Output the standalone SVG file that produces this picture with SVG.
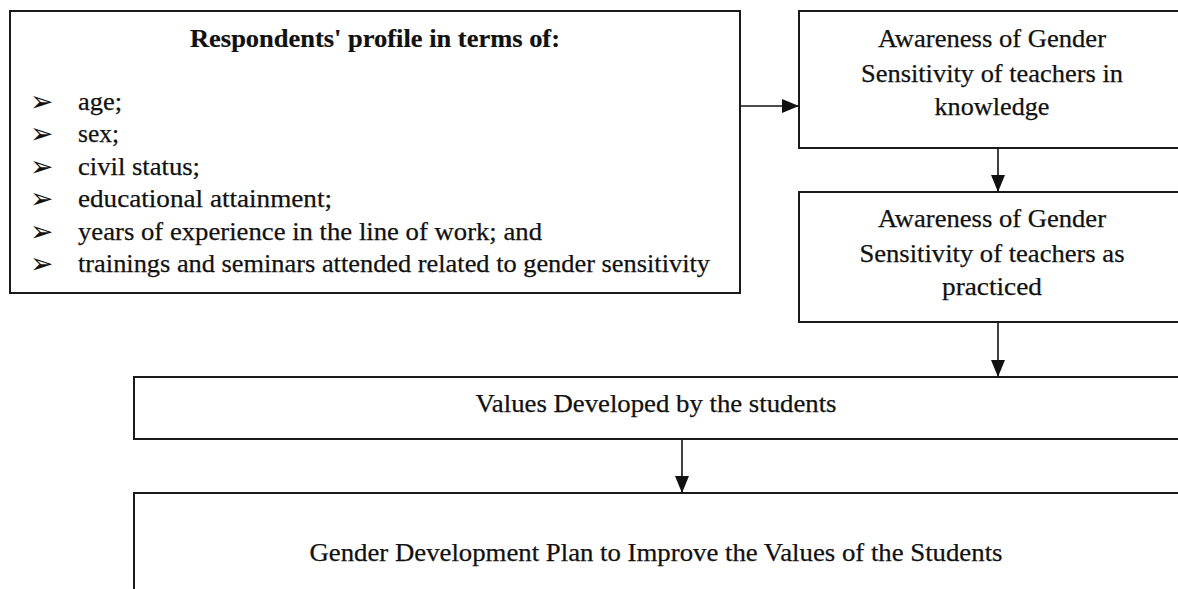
<svg xmlns="http://www.w3.org/2000/svg" width="1178" height="589" viewBox="0 0 1178 589">
  <style>
    .box { fill: #ffffff; stroke: #1a1a1a; stroke-width: 2; }
    .lbl { font-family: "Liberation Serif", "Times New Roman", serif; font-size: 25px; fill: #111111; stroke: #111111; stroke-width: 0.25; }
    .mid { text-anchor: middle; }
    .bold { font-weight: bold; stroke-width: 0.2; }
    .bullet { font-family: "DejaVu Sans", sans-serif; font-size: 28px; fill: #111111; }
    .conn { stroke: #111111; stroke-width: 1.6; fill: none; marker-end: url(#head); }
  </style>
  <defs>
    <marker id="head" viewBox="0 0 17 14" refX="17" refY="7" markerWidth="17" markerHeight="14" markerUnits="userSpaceOnUse" orient="auto">
      <path d="M0,0 L17,7 L0,14 Z" fill="#111111"/>
    </marker>
  </defs>

  <rect width="1178" height="589" fill="#ffffff"/>

  <!-- Respondents' profile -->
  <g id="profile">
    <rect class="box" x="10" y="11" width="730" height="282"/>
    <text class="lbl bold mid" x="375" y="47" textLength="370" lengthAdjust="spacingAndGlyphs">Respondents'  profile in terms of:</text>
    <text class="bullet" x="30" y="111">➢</text>
    <text class="bullet" x="30" y="143">➢</text>
    <text class="bullet" x="30" y="176">➢</text>
    <text class="bullet" x="30" y="208">➢</text>
    <text class="bullet" x="30" y="241">➢</text>
    <text class="bullet" x="30" y="273">➢</text>
    <text class="lbl" x="78" y="110" textLength="44" lengthAdjust="spacingAndGlyphs">age;</text>
    <text class="lbl" x="78" y="142" textLength="41" lengthAdjust="spacingAndGlyphs">sex;</text>
    <text class="lbl" x="78" y="175" textLength="122" lengthAdjust="spacingAndGlyphs">civil status;</text>
    <text class="lbl" x="78" y="207" textLength="254" lengthAdjust="spacingAndGlyphs">educational attainment;</text>
    <text class="lbl" x="78" y="240" textLength="464" lengthAdjust="spacingAndGlyphs">years of experience in the line  of work;  and</text>
    <text class="lbl" x="78" y="272" textLength="632" lengthAdjust="spacingAndGlyphs">trainings and seminars attended related to gender sensitivity</text>
  </g>

  <!-- Awareness in knowledge -->
  <g id="awareness-knowledge">
    <rect class="box" x="799" y="11" width="400" height="137"/>
    <text class="lbl mid" x="992" y="47" textLength="228" lengthAdjust="spacingAndGlyphs">Awareness of Gender</text>
    <text class="lbl mid" x="992" y="82" textLength="262" lengthAdjust="spacingAndGlyphs">Sensitivity of teachers in</text>
    <text class="lbl mid" x="992" y="115" textLength="115" lengthAdjust="spacingAndGlyphs">knowledge</text>
  </g>

  <!-- Awareness as practiced -->
  <g id="awareness-practiced">
    <rect class="box" x="799" y="192" width="400" height="130"/>
    <text class="lbl mid" x="992" y="227" textLength="228" lengthAdjust="spacingAndGlyphs">Awareness of Gender</text>
    <text class="lbl mid" x="992" y="262" textLength="265" lengthAdjust="spacingAndGlyphs">Sensitivity of teachers as</text>
    <text class="lbl mid" x="992" y="295" textLength="100" lengthAdjust="spacingAndGlyphs">practiced</text>
  </g>

  <!-- Values developed -->
  <g id="values">
    <rect class="box" x="134" y="377" width="1070" height="62"/>
    <text class="lbl mid" x="656" y="412" textLength="361" lengthAdjust="spacingAndGlyphs">Values Developed by the students</text>
  </g>

  <!-- Development plan -->
  <g id="plan">
    <rect class="box" x="134" y="493" width="1070" height="120"/>
    <text class="lbl mid" x="656" y="561" textLength="693" lengthAdjust="spacingAndGlyphs">Gender Development Plan to Improve the Values of the Students</text>
  </g>

  <!-- Connectors -->
  <g id="connectors">
    <line class="conn" x1="741" y1="106" x2="799" y2="106"/>
    <line class="conn" x1="998" y1="149" x2="998" y2="192"/>
    <line class="conn" x1="998" y1="323" x2="998" y2="377"/>
    <line class="conn" x1="682" y1="440" x2="682" y2="493"/>
  </g>
</svg>
